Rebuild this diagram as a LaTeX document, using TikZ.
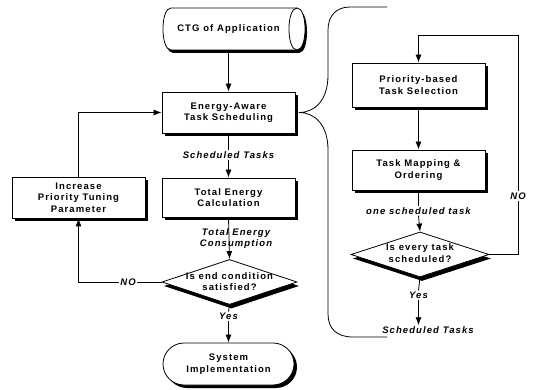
\documentclass[tikz,border=0pt]{standalone}
\usepackage{fontspec}
\setmainfont{Liberation Sans}[LetterSpace=11.5]
\usetikzlibrary{shapes.geometric,shapes.misc,shadows,arrows.meta}
\begin{document}
\begin{tikzpicture}[x=1pt,y=-1pt,
  every node/.style={font=\fontsize{9.5}{11.5}\selectfont\bfseries, align=center, inner sep=1pt},
  box/.style={draw, line width=0.8pt, fill=white, minimum width=133pt,
    drop shadow={shadow xshift=3pt,shadow yshift=-3pt,opacity=1,fill=black}},
  dia/.style={diamond, draw, line width=0.8pt, fill=white, inner sep=0pt,
    drop shadow={shadow xshift=2pt,shadow yshift=-4pt,opacity=1,fill=black}},
  lab/.style={font=\fontsize{9.5}{11.5}\selectfont\bfseries\itshape},
  arr/.style={-{Latex[length=8pt,width=6pt]}, line width=0.8pt},
  con/.style={line width=0.8pt}]
\useasboundingbox (0,0) rectangle (533,390);

% cylinder: CTG of Application
\begin{scope}[shift={(2,3)}]
\fill[black] (171,8) -- (297,8) .. controls (307.7,8) and (307.7,50) .. (297,50) -- (171,50)
  .. controls (160.3,50) and (160.3,8) .. (171,8) -- cycle;
\end{scope}
\filldraw[con, fill=white] (171,8) -- (297,8) .. controls (307.7,8) and (307.7,50) .. (297,50) -- (171,50)
  .. controls (160.3,50) and (160.3,8) .. (171,8) -- cycle;
\draw[con] (297,8) .. controls (286.3,8) and (286.3,50) .. (297,50);
\node[minimum width=120pt, minimum height=42pt, inner sep=0pt] (ctg) at (228.5,29) {CTG of Application};

% left column
\node[box, minimum height=41pt] (ea) at (228.5,112.5) {Energy-Aware\\Task Scheduling};
\node[lab, fill=white] (sch1) at (228.5,155) {Scheduled Tasks};
\node[box, minimum height=39pt] (te) at (228.5,197.5) {Total Energy\\Calculation};
\node[lab] (tec) at (236,238.5) {Total Energy\\Consumption};
\node[dia, minimum width=135pt, minimum height=45pt] (d1) at (229.5,282) {};
\node (d1t) at (229.5,281.5) {Is end condition\\satisfied?};
\node[lab, fill=white] (yes1) at (228.5,316) {Yes};
\node[rounded rectangle, draw, line width=0.8pt, fill=white, minimum width=133pt, minimum height=42pt,
  drop shadow={shadow xshift=3pt,shadow yshift=-3pt,opacity=1,fill=black}] (sys) at (228.5,364) {System\\Implementation};
\node[box, minimum height=41pt] (inc) at (78.5,197.5) {Increase\\Priority Tuning\\Parameter};
\node[lab, fill=white] (no1) at (128,282) {NO};

\draw[arr] (ctg.south) -- (ea.north);
\draw[con] (ea.south) -- (sch1.north);
\draw[arr] (sch1.south) -- (te.north);
\draw[arr] (te.south) -- (d1.north);
\draw[con] (d1.south) -- (yes1.north);
\draw[arr] (yes1.south) -- (sys.north);
\draw[con] (d1.west) -- (no1.east);
\draw[arr] (no1.west) -| (inc.south);
\draw[arr] (inc.north) |- (ea.west);

% brace
\coordinate (tip) at (299,112.5);
\draw[con] (387,7) -- (350,7) .. controls (336,7) and (328,16) .. (328,30) -- (328,75)
  .. controls (328,100) and (315,112.5) .. (tip)
  .. controls (315,112.5) and (328,125) .. (328,150) -- (328,314)
  .. controls (328,329) and (337,337) .. (353,337) -- (387,337);

% right column
\node[box, minimum height=44pt] (ps) at (418.5,85) {Priority-based\\Task Selection};
\node[box, minimum height=40pt] (tm) at (418.5,170) {Task Mapping \&\\Ordering};
\node[lab, fill=white] (ost) at (418.5,211) {one scheduled task};
\node[dia, minimum width=138pt, minimum height=45pt] (d2) at (420,254.5) {};
\node (d2t) at (420,253) {Is every task\\scheduled?};
\node[lab, fill=white] (yes2) at (418.5,295) {Yes};
\node[lab] (st) at (428,330) {Scheduled Tasks};
\node[lab, fill=white] (no2) at (518,196) {NO};
\coordinate (loop) at (418.5,35);

\draw[arr] (ps.south) -- (tm.north);
\draw[con] (tm.south) -- (ost.north);
\draw[arr] (ost.south) -- (d2.north);
\draw[con] (d2.south) -- (yes2.north);
\draw[arr] (yes2.south) -- (yes2.south |- st.north);
\draw[con] (d2.east) -| (no2.south);
\draw[arr] (no2.north) |- (loop) -- (ps.north);
\end{tikzpicture}
\end{document}
